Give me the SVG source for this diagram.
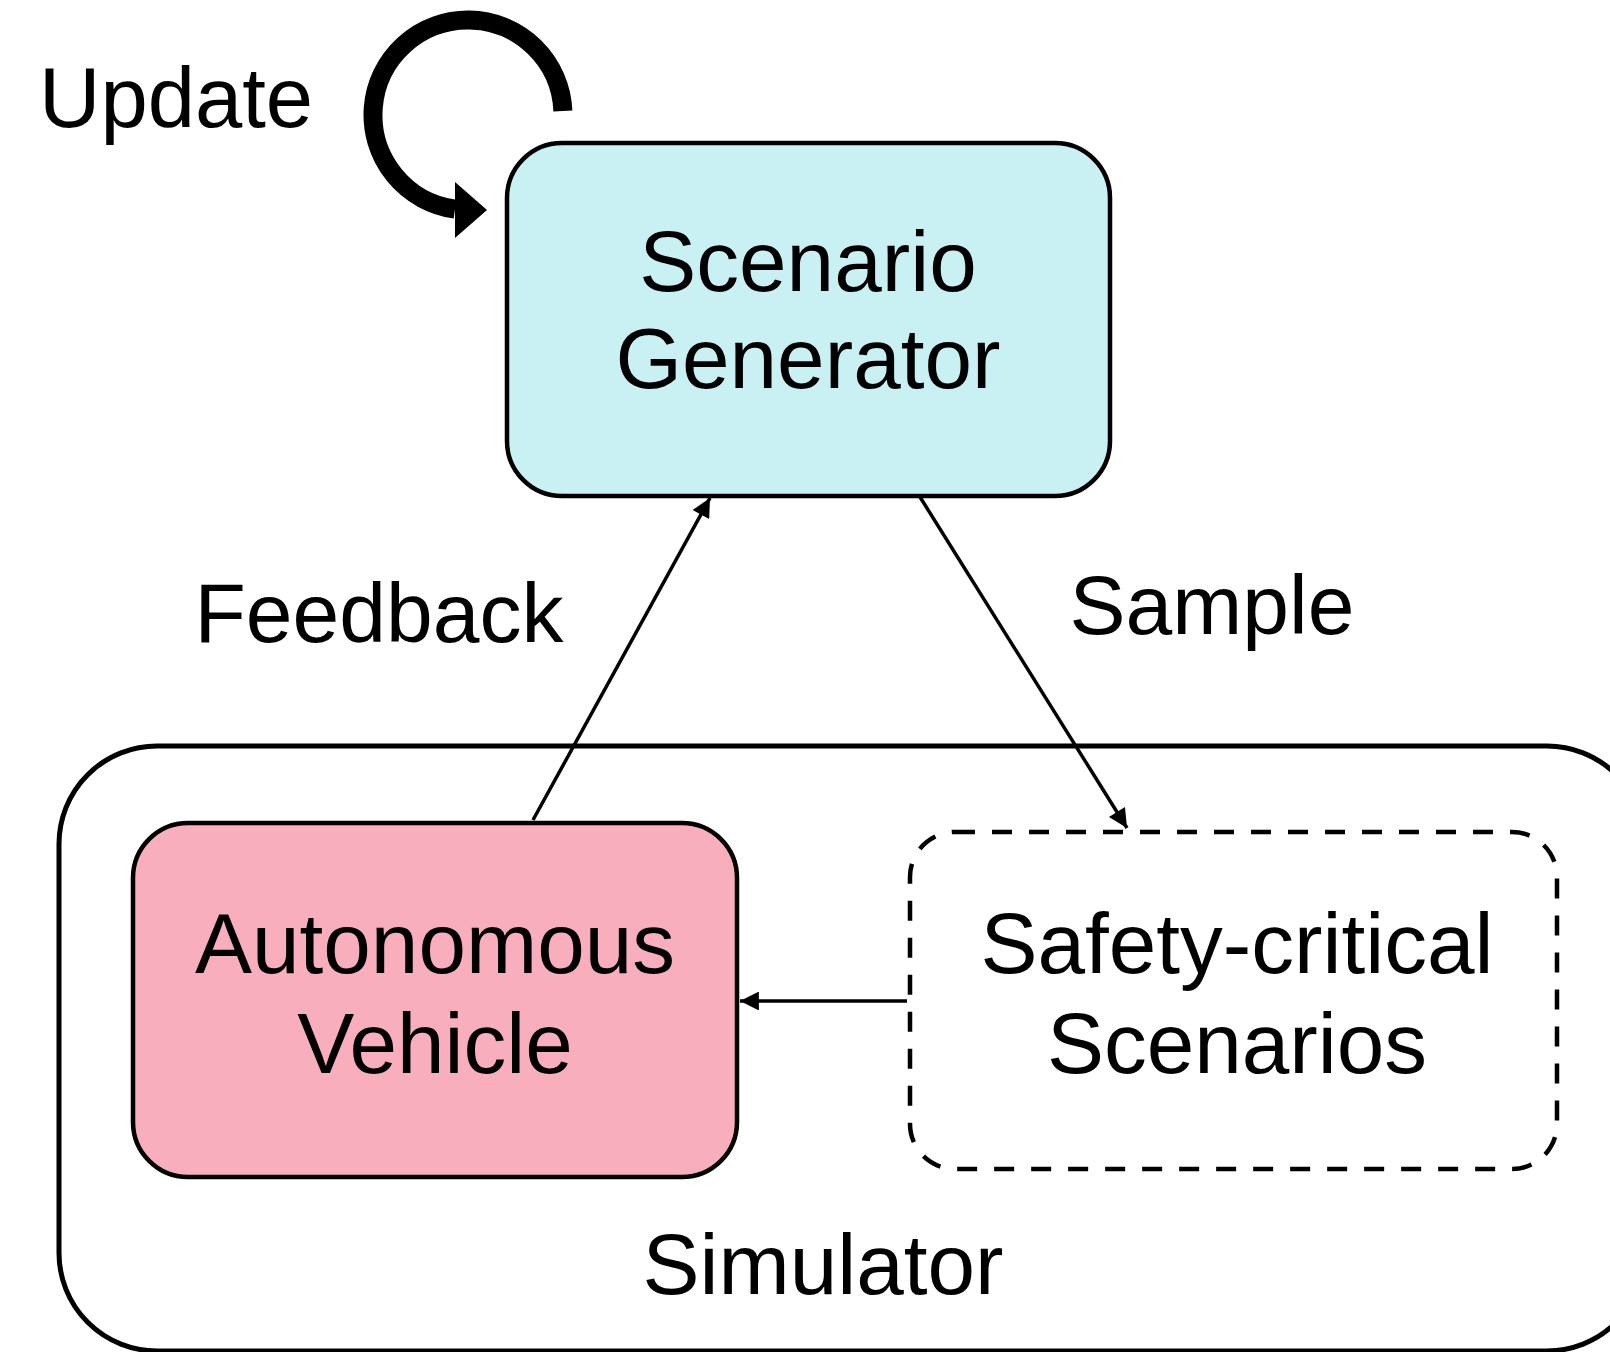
<svg xmlns="http://www.w3.org/2000/svg" width="1610" height="1352" viewBox="0 0 1610 1352">
  <defs>
    <style>
      .box { stroke: #000; stroke-width: 4.5; }
      .label { font-family: "Liberation Sans", Arial, sans-serif; font-size: 85.5px; fill: #000; text-anchor: middle; }
      .edge-label { font-size: 84px; }
      .edge { stroke: #000; stroke-width: 3.5; fill: none; }
    </style>
    <marker id="arrow" viewBox="0 0 10 10" refX="10" refY="5" markerWidth="6" markerHeight="5.4" markerUnits="strokeWidth" orient="auto">
      <path d="M0,0 L10,5 L0,10 Z" fill="#000"/>
    </marker>
  </defs>

  <rect width="1610" height="1352" fill="#fff"/>

  <!-- Simulator container -->
  <g id="simulator">
    <rect x="59" y="746" width="1586" height="605" rx="98" ry="98" fill="none" stroke="#000" stroke-width="5"/>
    <text class="label" x="823" y="1294">Simulator</text>
  </g>

  <!-- Self-loop on the generator -->
  <g id="update">
    <path d="M562.9,111 A95,95 0 1 0 455,209.1" fill="none" stroke="#000" stroke-width="19"/>
    <polygon points="455,182 487,210 455,238" fill="#000"/>
    <text x="39" y="127" font-family="Liberation Sans, Arial, sans-serif" font-size="85" fill="#000">Update</text>
  </g>

  <g id="scenario-generator">
    <rect class="box" x="507" y="143" width="603" height="353" rx="55" ry="55" fill="#C9F0F2"/>
    <text class="label" x="808" y="291">Scenario</text>
    <text class="label" x="808" y="388">Generator</text>
  </g>

  <g id="autonomous-vehicle">
    <rect class="box" x="133" y="823" width="604" height="354" rx="55" ry="55" fill="#F9AEBE"/>
    <text class="label" x="435" y="973">Autonomous</text>
    <text class="label" x="435" y="1073">Vehicle</text>
  </g>

  <g id="safety-critical-scenarios">
    <rect x="910" y="832" width="647" height="337" rx="45" ry="45" fill="none" stroke="#000" stroke-width="4.5" stroke-dasharray="20 17"/>
    <text class="label" x="1237" y="973">Safety-critical</text>
    <text class="label" x="1237" y="1073">Scenarios</text>
  </g>

  <!-- Connectors -->
  <g id="connectors">
    <line class="edge" x1="533" y1="820" x2="710" y2="498" marker-end="url(#arrow)"/>
    <line class="edge" x1="920" y1="497" x2="1127" y2="828" marker-end="url(#arrow)"/>
    <line class="edge" x1="907" y1="1001" x2="740" y2="1001" marker-end="url(#arrow)"/>
  </g>

  <!-- Edge labels -->
  <g id="edge-labels">
    <text class="label edge-label" x="379" y="642">Feedback</text>
    <text class="label edge-label" x="1212" y="634">Sample</text>
  </g>
</svg>
